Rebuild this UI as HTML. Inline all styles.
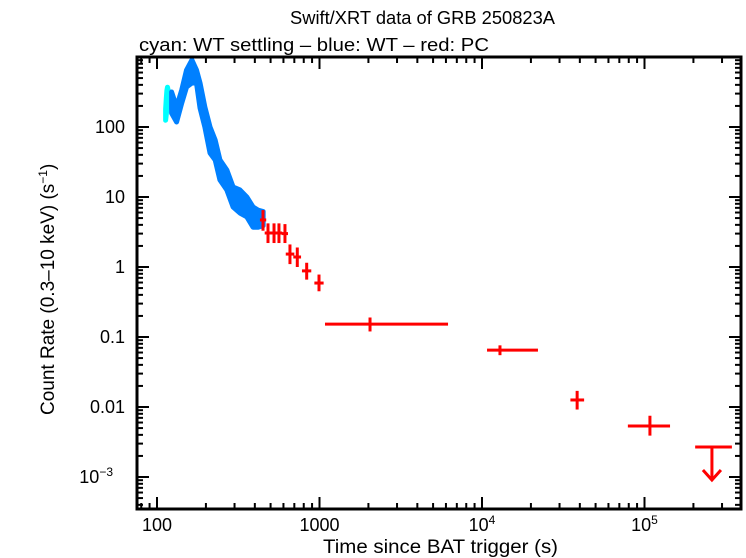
<!DOCTYPE html>
<html><head><meta charset="utf-8"><style>
body{margin:0;background:#fff}
svg{display:block;font-family:"Liberation Sans",sans-serif}
</style></head><body>
<svg id="c" width="746" height="558">
<text x="290" y="24" font-size="18" textLength="265" lengthAdjust="spacingAndGlyphs">Swift/XRT data of GRB 250823A</text>
<text x="139" y="51" font-size="18" textLength="350" lengthAdjust="spacingAndGlyphs">cyan: WT settling – blue: WT – red: PC</text>
<text x="323" y="553" font-size="19" textLength="235" lengthAdjust="spacingAndGlyphs">Time since BAT trigger (s)</text>
<text transform="translate(54,415) rotate(-90)" font-size="19">Count Rate (0.3–10 keV) (s<tspan dy="-7" font-size="12">−1</tspan><tspan dy="7">)</tspan></text>
<g id="plot"></g>
<rect x="137" y="57" width="604" height="452" fill="none" stroke="#000" stroke-width="3"/>
</svg>
<script>
const xTickVals=[100,1000,1e4,1e5];
const xTickLabels=["100","1000","10^4","10^5"];
const yTickVals=[100,10,1,0.1,0.01,0.001];
const yTickLabels=["100","10","1","0.1","0.01","10^−3"];
const cyanT=[113,114,115,116,117];
const cyanLo=[125,150,180,200,220];
const cyanHi=[180,250,330,370,340];
const wtT=[123,132,142,152,164,175,184,197,212,228,244,269,294,324,357,390,419,450];
const wtLo=[158,118,220,373,425,425,187,100,42.5,33.8,17.5,12.6,7.2,5.9,5.2,3.7,3.7,3.9];
const wtHi=[316,193,338,652,906,652,425,193,100,65,33.8,24.3,13.9,12.6,10,7.2,6.5,6.2];
const pcT=[449,482,525,563,613,658,730,834,993,2046,12900,38500,108000];
const pcTLo=[430,460,500,540,585,620,690,780,930,1081,10740,35000,79000];
const pcTHi=[470,505,550,590,640,700,770,890,1060,6180,22100,42500,143600];
const pcR=[4.7,3.06,3.06,3.06,3.0,1.53,1.39,0.88,0.59,0.153,0.065,0.0126,0.00535];
const pcRLo=[3.3,2.2,2.2,2.2,2.2,1.1,1.0,0.66,0.45,0.12,0.055,0.0092,0.0039];
const pcRHi=[6.5,4.2,4.2,4.2,4.1,2.1,1.9,1.15,0.78,0.19,0.076,0.017,0.0075];
const ulT=[260000],ulTLo=[205000],ulTHi=[345000],ulR=[0.00268];
const NS="http://www.w3.org/2000/svg";
const X=t=>157+(Math.log10(t)-2)*162.5;
const Y=r=>127-(Math.log10(r)-2)*70;
const g=document.getElementById('plot');
function el(tag,at){const e=document.createElementNS(NS,tag);for(const k in at)e.setAttribute(k,at[k]);g.appendChild(e);return e;}
function line(x1,y1,x2,y2,c,w){return el('line',{x1,y1,x2,y2,stroke:c,'stroke-width':w});}
for(let d=1;d<=5;d++){for(let m=1;m<10;m++){const t=m*Math.pow(10,d);const x=X(t);if(x<138||x>740)continue;const L=m==1?12:6;
let a=line(x,509,x,509-L,'#000',2);


let b=line(x,57,x,57+L,'#000',2);

}}
for(let d=-4;d<=2;d++){for(let m=1;m<10;m++){const r=m*Math.pow(10,d);const y=Y(r);if(y<58||y>508)continue;const L=m==1?12:6;
let a=line(137,y,137+L,y,'#000',2);


let b=line(741,y,741-L,y,'#000',2);

}}
function lab(t,s){if(s.includes('^')){const p=s.split('^');t.textContent=p[0];const sp=document.createElementNS(NS,'tspan');sp.setAttribute('dy','-7');sp.setAttribute('font-size','12');sp.textContent=p[1];t.appendChild(sp);}else t.textContent=s;}
xTickVals.forEach((v,i)=>{const t=el('text',{x:X(v),y:531,'font-size':18,'text-anchor':'middle'});


lab(t,xTickLabels[i]);});
yTickVals.forEach((v,i)=>{const s=yTickLabels[i];const t=el('text',{x:s.includes('^')?113:125,y:Y(v)+6,'font-size':18,'text-anchor':'end'});


lab(t,s);});
function band(T,Lo,Hi,col,name){let pts=T.map((t,i)=>X(t)+','+Y(Hi[i]));pts=pts.concat(T.map((t,i)=>X(t)+','+Y(Lo[i])).reverse());
const p=el('polygon',{points:pts.join(' '),fill:col,stroke:col,'stroke-width':5,'stroke-linejoin':'round'});


T.forEach((t,i)=>{const l=line(X(t),Y(Hi[i]),X(t),Y(Lo[i]),col,4);

});}
band(cyanT,cyanLo,cyanHi,'#00ffff','wt-settling-series');
band(wtT,wtLo,wtHi,'#0080ff','wt-series');
pcT.forEach((t,i)=>{const a=line(X(pcTLo[i]),Y(pcR[i]),X(pcTHi[i]),Y(pcR[i]),'#f00',3);


const b=line(X(t),Y(pcRLo[i]),X(t),Y(pcRHi[i]),'#f00',3);

});
ulT.forEach((t,i)=>{const y=Y(ulR[i]);const a=line(X(ulTLo[i]),y,X(ulTHi[i]),y,'#f00',3);


const b=line(X(t),y,X(t),y+33,'#f00',3);


const c=el('polyline',{points:(X(t)-9)+','+(y+23)+' '+X(t)+','+(y+33)+' '+(X(t)+9)+','+(y+23),fill:'none',stroke:'#f00','stroke-width':3});

});
</script>
</body></html>
